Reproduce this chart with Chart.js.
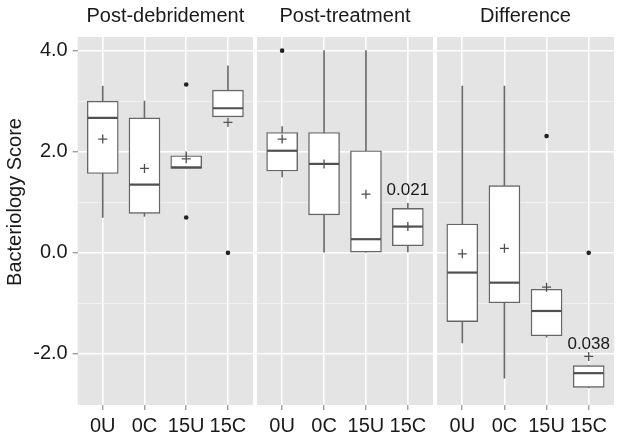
<!DOCTYPE html>
<html>
<head>
<meta charset="utf-8">
<script src="https://cdn.jsdelivr.net/npm/chart.js@4"></script>
<style>
  body { margin: 0; background: #fff; }
  #wrap { position: relative; width: 624px; height: 441px; }
  #wrap canvas { position: absolute; top: 0; }
</style>
</head>
<body>
<div id="wrap">
  <canvas id="panel0" width="254" height="441" style="left:0px"></canvas>
  <canvas id="panel1" width="176" height="441" style="left:257px"></canvas>
  <canvas id="panel2" width="177" height="441" style="left:437px"></canvas>
</div>
<script>
// data (one row per facet)
const categories = ['0U', '0C', '15U', '15C'];
const panelTitles = ['Post-debridement', 'Post-treatment', 'Difference'];
const yTitle = 'Bacteriology Score';
const whiskerLow  = [[0.7, 0.72, 1.67, 2.69], [1.5, 0.0, 0.0, 0.02], [-1.78, -2.48, -1.67, -2.67]];
const hingeLow    = [[1.57, 0.78, 1.67, 2.69], [1.62, 0.75, 0.0, 0.14], [-1.36, -0.99, -1.64, -2.66]];
const medians     = [[2.67, 1.35, 1.69, 2.86], [2.02, 1.76, 0.27, 0.52], [-0.39, -0.59, -1.15, -2.38]];
const hingeHigh   = [[3.0, 2.67, 1.92, 3.22], [2.38, 2.38, 2.02, 0.88], [0.57, 1.33, -0.72, -2.23]];
const whiskerHigh = [[3.3, 3.0, 2.0, 3.7], [2.5, 4.0, 4.0, 0.98], [3.3, 3.3, -0.72, -2.23]];
const means       = [[2.25, 1.67, 1.86, 2.58], [2.25, 1.76, 1.16, 0.52], [-0.02, 0.09, -0.68, -2.05]];
const outlierCats   = [['15U', '15U', '15C'], ['0U'], ['15U', '15C']];
const outlierValues = [[3.33, 0.7, 0.0], [4.0], [2.31, 0.0]];
const pValues = [[null, null, null, null], [null, null, null, '0.021'], [null, null, null, '0.038']];

const FONT = "'Liberation Sans', Arial, Helvetica, sans-serif";
const TEXT = '#1a1a1a';

// grey panel background
const panelBg = {
  id: 'panelBg',
  beforeDraw(chart) {
    const a = chart.chartArea;
    chart.ctx.save();
    chart.ctx.fillStyle = '#e4e4e4';
    chart.ctx.fillRect(a.left, a.top, a.right - a.left, a.bottom - a.top);
    chart.ctx.restore();
  }
};

// facet strip title, y title and p-value labels
const facetText = {
  id: 'facetText',
  afterDatasetsDraw(chart, args, opts) {
    const p = opts.panel;
    const ctx = chart.ctx;
    const a = chart.chartArea;
    ctx.save();
    ctx.fillStyle = TEXT;
    ctx.textAlign = 'center';
    ctx.textBaseline = 'middle';
    ctx.font = '20px ' + FONT;
    ctx.fillText(panelTitles[p], (a.left + a.right) / 2, 16);

    if (p === 0) {
      ctx.save();
      ctx.translate(15, 202);
      ctx.rotate(-Math.PI / 2);
      ctx.fillText(yTitle, 0, 0);
      ctx.restore();
    }

    ctx.font = '17px ' + FONT;
    ctx.textBaseline = 'bottom';
    const xs = chart.scales.x, ys = chart.scales.y;
    pValues[p].forEach((t, i) => {
      if (!t) return;
      const top = Math.max(whiskerHigh[p][i], means[p][i]);
      ctx.fillText(t, xs.getPixelForValue(i + 1), ys.getPixelForValue(top) - 4);
    });
    ctx.restore();
  }
};

function makePanel(p) {
  const first = p === 0;
  const pts = arr => arr.map((v, i) => ({ x: i + 1, y: v }));
  const spans = (lo, hi) => lo.map((v, i) => ({ x: i + 1, y: [v, hi[i]] }));
  const major = v => v % 2 === 0;

  return new Chart(document.getElementById('panel' + p), {
    type: 'bar',
    data: {
      datasets: [
        { // whiskers
          type: 'bar', data: spans(whiskerLow[p], whiskerHigh[p]),
          barThickness: 1, backgroundColor: '#6a6a6a', grouped: false, order: 5
        },
        { // boxes
          type: 'bar', data: spans(hingeLow[p], hingeHigh[p]),
          barThickness: 31, backgroundColor: '#ffffff', borderColor: '#666666',
          borderWidth: 1.4, borderSkipped: false, grouped: false, order: 4
        },
        { // medians
          type: 'line', data: pts(medians[p]), showLine: false,
          pointStyle: 'line', pointRadius: 15, pointBorderWidth: 2.2,
          pointBorderColor: '#505050', order: 3
        },
        { // means
          type: 'line', data: pts(means[p]), showLine: false,
          pointStyle: 'cross', pointRadius: 4.5, pointBorderWidth: 1.3,
          pointBorderColor: '#505050', order: 2
        },
        { // outliers
          type: 'line',
          data: outlierCats[p].map((c, i) => ({ x: categories.indexOf(c) + 1, y: outlierValues[p][i] })),
          showLine: false, pointStyle: 'circle', pointRadius: 2.3,
          pointBackgroundColor: '#222222', pointBorderWidth: 0, order: 1
        }
      ]
    },
    options: {
      responsive: false,
      animation: false,
      events: [],
      layout: { autoPadding: false, padding: { top: 37, right: first ? 1 : 0, left: 0, bottom: 0 } },
      plugins: {
        legend: { display: false },
        tooltip: { enabled: false },
        facetText: { panel: p }
      },
      scales: {
        x: {
          type: 'linear', min: 0.4, max: 4.6, offset: false,
          afterBuildTicks: s => { s.ticks = categories.map((c, i) => ({ value: i + 1 })); },
          afterFit: s => { s.height = 36; s.paddingLeft = 0; s.paddingRight = 0; },
          ticks: {
            callback: (v, i) => categories[i],
            font: { family: FONT, size: 20 }, color: TEXT,
            padding: 4, maxRotation: 0, autoSkip: false
          },
          grid: { offset: false, color: '#ffffff', lineWidth: 1.6, tickColor: '#7a7a7a', tickLength: 5, tickWidth: 1 },
          border: { display: false }
        },
        y: {
          min: -3.01, max: 4.27,
          afterBuildTicks: s => { s.ticks = [-2, -1, 0, 1, 2, 3, 4].map(v => ({ value: v })); },
          afterFit: s => { s.width = first ? 77.7 : 0; },
          ticks: {
            display: first,
            callback: v => major(v) ? v.toFixed(1) : '',
            font: { family: FONT, size: 20 }, color: TEXT, padding: 5
          },
          grid: {
            color: c => major(c.tick.value) ? '#ffffff' : '#f2f2f2',
            lineWidth: c => major(c.tick.value) ? 1.6 : 0.8,
            drawTicks: first, tickLength: 5, tickWidth: 1,
            tickColor: c => major(c.tick.value) ? '#7a7a7a' : 'rgba(0,0,0,0)'
          },
          border: { display: false }
        }
      }
    },
    plugins: [panelBg, facetText]
  });
}

[0, 1, 2].forEach(makePanel);
</script>
</body>
</html>
